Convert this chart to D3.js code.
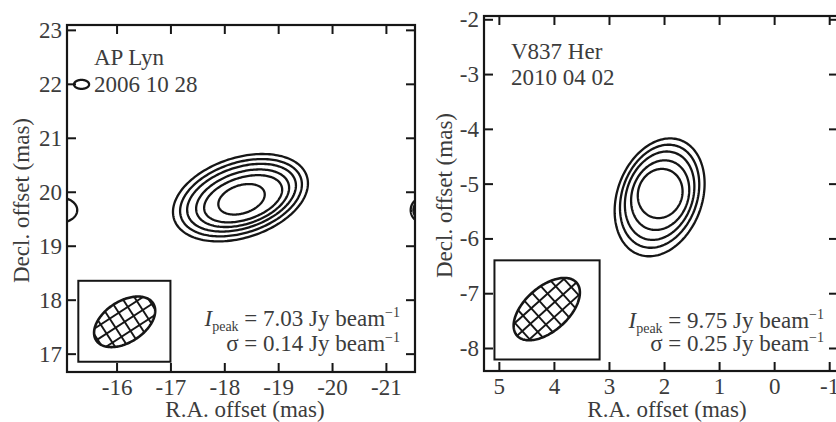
<!DOCTYPE html>
<html>
<head>
<meta charset="utf-8">
<script src="https://cdn.jsdelivr.net/npm/d3@7"></script>
<style>
  html, body { margin: 0; padding: 0; background: #fff; }
  svg { display: block; }
  svg text { font-family: "Liberation Serif", "Times New Roman", "DejaVu Serif", serif; fill: #3c3c3c; }
</style>
</head>
<body>
<svg id="chart" width="836" height="422" font-family="Liberation Serif, serif"></svg>
<script>
// ---- AP Lyn, 2006 10 28 ----
// contour ellipses: [R.A. centre, Decl. centre, semi-major, semi-minor, angle in degrees]
const apLynContours = [
  [-18.30, 19.89, 1.295, 0.74, 18],
  [-18.31, 19.89, 1.17, 0.65, 18],
  [-18.32, 19.89, 1.046, 0.565, 18],
  [-18.34, 19.88, 0.894, 0.48, 18],
  [-18.35, 19.87, 0.751, 0.39, 18],
  [-18.32, 19.86, 0.445, 0.26, 18]
];
// weak features near the field edges
const apLynSideContours = [
  [-15.35, 21.99, 0.14, 0.083, 0],
  [-14.95, 19.66, 0.32, 0.23, 0],
  [-21.66, 19.66, 0.20, 0.22, 0],
  [-21.66, 19.66, 0.15, 0.17, 0]
];
const apLynBeam = [-16.15, 17.59, 0.63, 0.38, 33];
const apLynBeamBox = [-15.29, -17.0, 18.35, 16.85];
const apLynXTicks = [-16, -17, -18, -19, -20, -21];
const apLynYTicks = [17, 18, 19, 20, 21, 22, 23];
const apLynXDomain = [-15.08, -21.54];
const apLynYDomain = [16.66, 23.09];
const apLynLabels = ["AP Lyn", "2006 10 28"];
const apLynPeak = "7.03";
const apLynSigma = "0.14";

// ---- V837 Her, 2010 04 02 ----
const v837HerContours = [
  [2.08, -5.25, 1.11, 0.77, 70],
  [2.08, -5.23, 0.97, 0.68, 70],
  [2.08, -5.22, 0.83, 0.60, 70],
  [2.07, -5.21, 0.65, 0.51, 70],
  [2.07, -5.18, 0.455, 0.40, 70]
];
const v837HerSideContours = [];
const v837HerBeam = [4.13, -7.29, 0.725, 0.40, 42];
const v837HerBeamBox = [5.08, 3.17, -6.40, -8.21];
const v837HerXTicks = [5, 4, 3, 2, 1, 0, -1];
const v837HerYTicks = [-8, -7, -6, -5, -4, -3, -2];
const v837HerXDomain = [5.27, -1.16];
const v837HerYDomain = [-8.42, -1.94];
const v837HerLabels = ["V837 Her", "2010 04 02"];
const v837HerPeak = "9.75";
const v837HerSigma = "0.25";

const svg = d3.select("#chart");
const defs = svg.append("defs");
const ink = "#161616";
const serif = '"Liberation Serif", "Times New Roman", serif';

// sample an ellipse in data space; R.A. grows to the left on the sky
function ellipseRing(e, n = 180) {
  const [cx, cy, a, b, ang] = e;
  const th = ang * Math.PI / 180;
  return d3.range(n).map(i => {
    const t = i / n * 2 * Math.PI;
    const u = a * Math.cos(t), v = b * Math.sin(t);
    return [cx - (u * Math.cos(th) - v * Math.sin(th)),
            cy + (u * Math.sin(th) + v * Math.cos(th))];
  });
}

function drawPanel(cfg) {
  const x = d3.scaleLinear().domain(cfg.xDomain).range([cfg.left, cfg.right]);
  const y = d3.scaleLinear().domain(cfg.yDomain).range([cfg.bottom, cfg.top]);
  const g = svg.append("g");
  const clipId = "clip-" + cfg.id;
  defs.append("clipPath").attr("id", clipId)
    .append("rect").attr("x", cfg.left).attr("y", cfg.top)
    .attr("width", cfg.right - cfg.left).attr("height", cfg.bottom - cfg.top);

  const line = d3.line().curve(d3.curveLinearClosed)
    .x(p => x(p[0])).y(p => y(p[1]));

  const body = g.append("g").attr("clip-path", `url(#${clipId})`);
  body.selectAll("path.contour")
    .data(cfg.contours.concat(cfg.side))
    .join("path").attr("class", "contour")
    .attr("d", e => line(ellipseRing(e)))
    .attr("fill", "none").attr("stroke", ink).attr("stroke-width", 2.3);

  // beam inset
  const bb = cfg.beamBox;
  g.append("rect")
    .attr("x", x(bb[0])).attr("y", y(bb[2]))
    .attr("width", x(bb[1]) - x(bb[0])).attr("height", y(bb[3]) - y(bb[2]))
    .attr("fill", "#fff").attr("stroke", ink).attr("stroke-width", 2);

  const beamClip = "beam-" + cfg.id;
  defs.append("clipPath").attr("id", beamClip)
    .append("path").attr("d", line(ellipseRing(cfg.beam)));
  const [bcx, bcy, ba, bbm, bang] = cfg.beam;
  const th = bang * Math.PI / 180;
  const toData = (u, v) => [bcx - (u * Math.cos(th) - v * Math.sin(th)),
                            bcy + (u * Math.sin(th) + v * Math.cos(th))];
  const step = cfg.hatch;
  const hatch = [];
  for (let k = -8; k <= 8; k++) {
    hatch.push([toData(k * step, -ba), toData(k * step, ba)]);
    hatch.push([toData(-ba, k * step), toData(ba, k * step)]);
  }
  g.append("g").attr("clip-path", `url(#${beamClip})`)
    .selectAll("line").data(hatch).join("line")
    .attr("x1", d => x(d[0][0])).attr("y1", d => y(d[0][1]))
    .attr("x2", d => x(d[1][0])).attr("y2", d => y(d[1][1]))
    .attr("stroke", ink).attr("stroke-width", 1.9);
  g.append("path").attr("d", line(ellipseRing(cfg.beam)))
    .attr("fill", "none").attr("stroke", ink).attr("stroke-width", 2.6);

  // axes with inward ticks on all four sides
  const tl = 9;
  const fs = "23px";
  const bottomAx = d3.axisBottom(x).tickValues(cfg.xTicks).tickSize(-tl).tickPadding(7)
    .tickFormat(d => String(d));
  const topAx = d3.axisTop(x).tickValues(cfg.xTicks).tickSize(-tl).tickFormat("");
  const leftAx = d3.axisLeft(y).tickValues(cfg.yTicks).tickSize(-tl).tickPadding(5)
    .tickFormat(d => String(d));
  const rightAx = d3.axisRight(y).tickValues(cfg.yTicks).tickSize(-tl).tickFormat("");
  const axes = [
    [bottomAx, `translate(0,${cfg.bottom})`],
    [topAx, `translate(0,${cfg.top})`],
    [leftAx, `translate(${cfg.left},0)`],
    [rightAx, `translate(${cfg.right},0)`]
  ];
  axes.forEach(([ax, tr]) => {
    const a = g.append("g").attr("transform", tr).call(ax)
      .attr("font-family", null).attr("font-size", null);
    a.select(".domain").remove();
    a.selectAll(".tick line").attr("stroke", ink).attr("stroke-width", 2);
    a.selectAll(".tick text").style("font-size", fs).attr("fill", "#3c3c3c")
      .style("font-family", serif);
  });
  g.append("rect")
    .attr("x", cfg.left).attr("y", cfg.top)
    .attr("width", cfg.right - cfg.left).attr("height", cfg.bottom - cfg.top)
    .attr("fill", "none").attr("stroke", ink).attr("stroke-width", 2.2);

  // source name and epoch
  g.append("text").attr("x", cfg.left + 27).attr("y", cfg.labelY[0])
    .style("font-size", fs).text(cfg.labels[0]);
  g.append("text").attr("x", cfg.left + 27).attr("y", cfg.labelY[1])
    .style("font-size", fs).text(cfg.labels[1]);

  // peak intensity and rms noise
  const t1 = g.append("text").attr("x", cfg.noteX).attr("y", cfg.noteY1)
    .attr("text-anchor", "end").style("font-size", fs);
  t1.append("tspan").attr("font-style", "italic").text("I");
  t1.append("tspan").attr("font-size", "14px").attr("dy", 5).text("peak");
  t1.append("tspan").attr("dy", -5).text(" = " + cfg.peak + " Jy beam");
  t1.append("tspan").attr("font-size", "14px").attr("dy", -9).text("\u22121");
  const t2 = g.append("text").attr("x", cfg.noteX).attr("y", cfg.noteY2)
    .attr("text-anchor", "end").style("font-size", fs);
  t2.append("tspan").text("\u03c3 = " + cfg.sigma + " Jy beam");
  t2.append("tspan").attr("font-size", "14px").attr("dy", -9).text("\u22121");

  // axis titles
  g.append("text").attr("x", cfg.xTitleX).attr("y", 417)
    .attr("text-anchor", "middle").style("font-size", fs).text("R.A. offset (mas)");
  g.append("text")
    .attr("transform", `translate(${cfg.yTitleX},${(cfg.top + cfg.bottom) / 2 + 2}) rotate(-90)`)
    .attr("text-anchor", "middle").style("font-size", fs).text("Decl. offset (mas)");
}

drawPanel({
  id: "aplyn", left: 67, right: 415, top: 25, bottom: 372,
  xDomain: apLynXDomain, yDomain: apLynYDomain,
  xTicks: apLynXTicks, yTicks: apLynYTicks,
  contours: apLynContours, side: apLynSideContours,
  beam: apLynBeam, beamBox: apLynBeamBox, hatch: 0.2,
  labels: apLynLabels, labelY: [65, 92], peak: apLynPeak, sigma: apLynSigma,
  noteX: 400, noteY1: 326, noteY2: 351, xTitleX: 245, yTitleX: 29
});

drawPanel({
  id: "v837her", left: 484, right: 838, top: 16, bottom: 371,
  xDomain: v837HerXDomain, yDomain: v837HerYDomain,
  xTicks: v837HerXTicks, yTicks: v837HerYTicks,
  contours: v837HerContours, side: v837HerSideContours,
  beam: v837HerBeam, beamBox: v837HerBeamBox, hatch: 0.2,
  labels: v837HerLabels, labelY: [59, 85], peak: v837HerPeak, sigma: v837HerSigma,
  noteX: 824, noteY1: 328, noteY2: 351, xTitleX: 667, yTitleX: 452
});
</script>
</body>
</html>
